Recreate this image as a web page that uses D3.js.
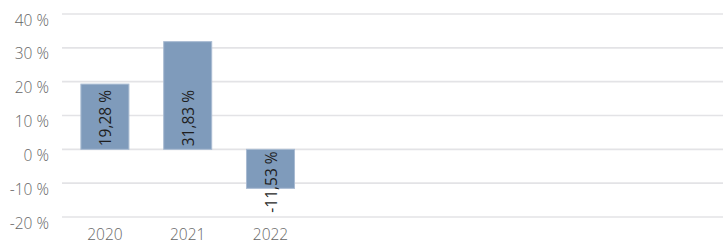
<!DOCTYPE html>
<html>
<head>
<meta charset="utf-8">
<script src="https://cdn.jsdelivr.net/npm/d3@7"></script>
<style>
  html, body { margin: 0; padding: 0; background: #fff; }
  svg { display: block; font-family: "Open Sans", "Noto Sans", sans-serif; }
</style>
</head>
<body>
<svg id="chart" width="723" height="245"></svg>
<script>
const categories = ["2020", "2021", "2022"];
const values = [19.28, 31.83, -11.53];
const valueLabels = ["19,28 %", "31,83 %", "-11,53 %"];
const yTicks = [-20, -10, 0, 10, 20, 30, 40];
const yTickLabels = ["-20 %", "-10 %", "0 %", "10 %", "20 %", "30 %", "40 %"];
const slotCount = 8;

const svg = d3.select("#chart");
const plotLeft = 62, plotRight = 723;

const x = d3.scaleBand()
  .domain(d3.range(slotCount))
  .range([63.5, 63.5 + slotCount * 82.8])
  .paddingInner(0.42)
  .paddingOuter(0.21);

const y = d3.scaleLinear().domain([-20, 40]).range([217, 14]);

// gridlines
svg.append("g").selectAll("line").data(yTicks).join("line")
  .attr("x1", plotLeft).attr("x2", plotRight)
  .attr("y1", d => y(d)).attr("y2", d => y(d))
  .attr("stroke", "#e3e3e6").attr("stroke-width", 1.6);

// y labels
svg.append("g").selectAll("text").data(yTicks).join("text")
  .attr("x", 49).attr("y", d => y(d) + 11.5)
  .attr("text-anchor", "end")
  .attr("font-size", 15.5)
  .attr("font-weight", 300)
  .attr("fill", "#666666")
  .text((d, i) => yTickLabels[i]);

// bars
svg.append("g").selectAll("rect").data(values).join("rect")
  .attr("x", (d, i) => x(i))
  .attr("width", x.bandwidth())
  .attr("y", d => y(Math.max(0, d)))
  .attr("height", d => Math.abs(y(d) - y(0)))
  .attr("fill", "#7f9bbb")
  .attr("stroke", "#a9bbd2")
  .attr("stroke-width", 1);

// bar labels
svg.append("g").selectAll("text").data(values).join("text")
  .attr("transform", (d, i) => {
    const cx = x(i) + x.bandwidth() / 2;
    const yy = d >= 0 ? y(0) - 3 : y(0) + 2;
    return `translate(${cx},${yy}) rotate(-90)`;
  })
  .attr("text-anchor", d => d >= 0 ? "start" : "end")
  .attr("dominant-baseline", "central")
  .attr("font-size", 15.5)
  .attr("fill", "#1e1e1e")
  .text((d, i) => valueLabels[i]);

// x labels
svg.append("g").selectAll("text").data(categories).join("text")
  .attr("x", (d, i) => x(i) + x.bandwidth() / 2)
  .attr("y", 240)
  .attr("text-anchor", "middle")
  .attr("font-size", 15.5)
  .attr("font-weight", 300)
  .attr("fill", "#666666")
  .text(d => d);
</script>
</body>
</html>
